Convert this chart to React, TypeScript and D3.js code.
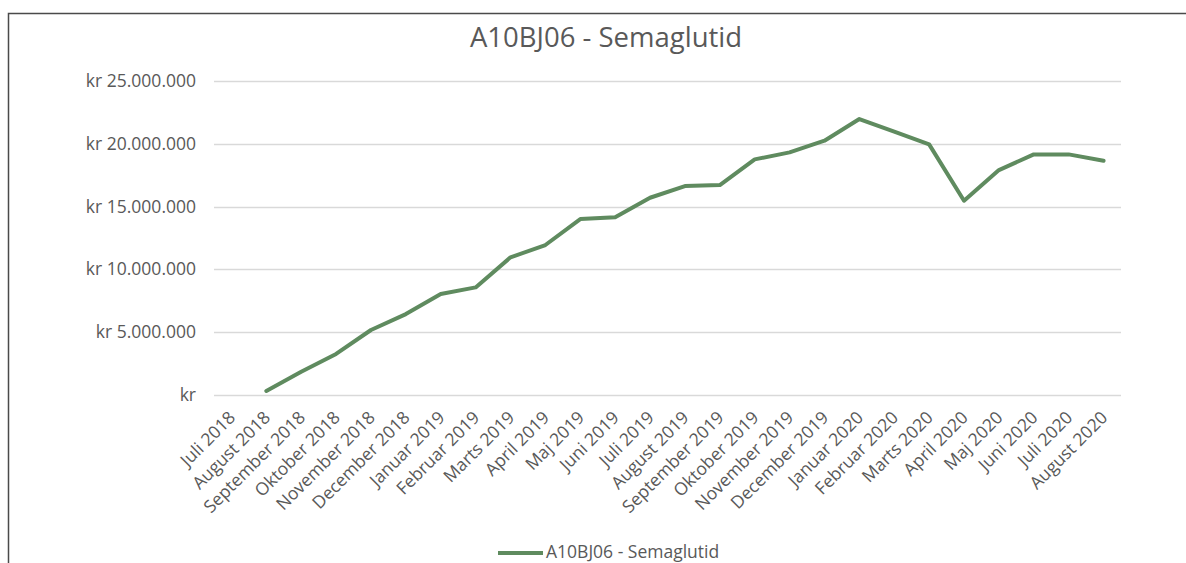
import React, { useEffect, useRef } from "react";
import * as d3 from "d3";

const months: string[] = [
  "Juli 2018", "August 2018", "September 2018", "Oktober 2018", "November 2018", "December 2018",
  "Januar 2019", "Februar 2019", "Marts 2019", "April 2019", "Maj 2019", "Juni 2019",
  "Juli 2019", "August 2019", "September 2019", "Oktober 2019", "November 2019", "December 2019",
  "Januar 2020", "Februar 2020", "Marts 2020", "April 2020", "Maj 2020", "Juni 2020",
  "Juli 2020", "August 2020",
];

// monthly amount in kr (no value for Juli 2018)
const semaglutid: (number | null)[] = [
  null, 300000, 1830000, 3250000, 5160000, 6430000,
  8030000, 8560000, 10960000, 11940000, 14010000, 14150000,
  15710000, 16640000, 16720000, 18770000, 19330000, 20260000,
  21990000, 20980000, 19970000, 15470000, 17920000, 19170000,
  19170000, 18660000,
];

const yTicks: number[] = [0, 5000000, 10000000, 15000000, 20000000, 25000000];

const seriesName = "A10BJ06 - Semaglutid";

const W = 1186;
const H = 563;
const FONT = "'Open Sans', sans-serif";
const TEXT = "#595959";
const GREEN = "#5F8B5F";

const App = () => {
  const ref = useRef<SVGSVGElement>(null);

  useEffect(() => {
    const svg = d3.select(ref.current).attr("width", W).attr("height", H);
    svg.selectAll("*").remove();

    const left = 214, right = 1121, top = 81.3, bottom = 394.7;

    const x = d3.scaleBand<string>().domain(months).range([left, right]);
    const y = d3.scaleLinear().domain([0, 25000000]).range([bottom, top]);

    // chart frame (only top and left edges are in view)
    svg.append("path")
      .attr("d", `M8.5,${H} V13.5 H${W}`)
      .attr("fill", "none")
      .attr("stroke", "#4a4a4a")
      .attr("stroke-width", 1.5);

    // title
    svg.append("text")
      .attr("x", 606)
      .attr("y", 47)
      .attr("text-anchor", "middle")
      .attr("font-family", FONT)
      .attr("font-size", 27.5)
      .attr("fill", TEXT)
      .text(seriesName);

    // gridlines
    svg.append("g")
      .selectAll("line")
      .data(yTicks)
      .join("line")
      .attr("x1", left)
      .attr("x2", right)
      .attr("y1", d => Math.round(y(d)) + 0.5)
      .attr("y2", d => Math.round(y(d)) + 0.5)
      .attr("stroke", "#D9D9D9")
      .attr("stroke-width", 1.3);

    const fmt = (v: number) =>
      v === 0 ? "kr" : "kr " + d3.format(",")(v).replace(/,/g, ".");

    // y labels
    svg.append("g")
      .selectAll("text")
      .data(yTicks)
      .join("text")
      .attr("x", 196)
      .attr("y", d => y(d) + 6)
      .attr("text-anchor", "end")
      .attr("font-family", FONT)
      .attr("font-size", 17.5)
      .attr("fill", TEXT)
      .text(d => fmt(d));

    // x labels
    svg.append("g")
      .selectAll("text")
      .data(months)
      .join("text")
      .attr("transform", d => `translate(${(x(d) ?? 0) + x.bandwidth() / 2 + 5},${bottom + 24}) rotate(-45)`)
      .attr("text-anchor", "end")
      .attr("font-family", FONT)
      .attr("font-size", 17.5)
      .attr("fill", TEXT)
      .text(d => d);

    // line
    const line = d3.line<number | null>()
      .defined(d => d !== null)
      .x((_, i) => (x(months[i]) ?? 0) + x.bandwidth() / 2)
      .y(d => y(d as number));

    svg.append("path")
      .datum(semaglutid)
      .attr("d", line)
      .attr("fill", "none")
      .attr("stroke", GREEN)
      .attr("stroke-width", 4)
      .attr("stroke-linejoin", "round")
      .attr("stroke-linecap", "round");

    // legend
    const lg = svg.append("g");
    lg.append("line")
      .attr("x1", 498)
      .attr("x2", 543)
      .attr("y1", 553)
      .attr("y2", 553)
      .attr("stroke", GREEN)
      .attr("stroke-width", 4);
    lg.append("text")
      .attr("x", 546)
      .attr("y", 558)
      .attr("font-family", FONT)
      .attr("font-size", 17.5)
      .attr("fill", TEXT)
      .text(seriesName);
  }, []);

  return (
    <svg ref={ref} style={{ position: "absolute", left: 0, top: 0, background: "#fff" }}></svg>
  );
};

export default App;
